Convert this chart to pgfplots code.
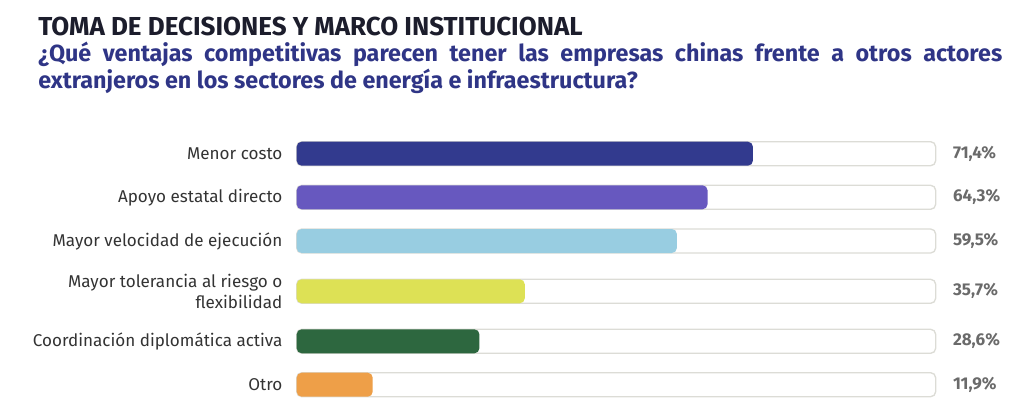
\documentclass[border=0pt]{standalone}
\usepackage{pgfplots}
\pgfplotsset{compat=1.18}
\usepackage{fontspec}
\setmainfont{Fira Sans}
\definecolor{c1}{HTML}{323A8E}
\definecolor{c2}{HTML}{6758BF}
\definecolor{c3}{HTML}{98CDE1}
\definecolor{c4}{HTML}{DDE155}
\definecolor{c5}{HTML}{2D673F}
\definecolor{c6}{HTML}{EE9F48}
\definecolor{trk}{HTML}{DCDCD6}
\definecolor{ttl}{HTML}{1C1D2C}
\definecolor{sub}{HTML}{2F3586}
\definecolor{lab}{HTML}{333333}
\definecolor{val}{HTML}{6A6A6A}
\begin{document}
\begin{tikzpicture}
\path[use as bounding box] (0,0) rectangle (768pt,309pt);
\node[anchor=base west, inner sep=0pt, text=ttl] at (28.5pt,282.75pt)
  {\fontsize{19.5}{23}\selectfont\bfseries TOMA DE DECISIONES Y MARCO INSTITUCIONAL};
\node[anchor=base west, inner sep=0pt, text=sub] at (28.5pt,263.25pt)
  {\parbox[t]{723pt}{\fontsize{17.5}{20.25}\selectfont\bfseries\hyphenpenalty=10000 ¿Qué ventajas competitivas parecen tener las empresas chinas frente a otros actores\linebreak extranjeros en los sectores de energía e infraestructura?}};
\begin{axis}[
  at={(222.5pt,1.5pt)}, anchor=south west,
  scale only axis, width=479.25pt, height=210pt,
  xmin=0, xmax=100, ymin=-410, ymax=-130,
  axis line style={draw=none}, tick style={draw=none},
  major tick length=0pt,
  xtick=\empty,
  ytick={-153.7,-197.3,-241,-291.3,-341.3,-384.7},
  yticklabels={Menor costo,Apoyo estatal directo,Mayor velocidad de ejecución,{Mayor tolerancia al riesgo o\\flexibilidad},Coordinación diplomática activa,Otro},
  yticklabel style={align=right, inner sep=0pt, xshift=-10.5pt, font=\fontsize{12.8}{15.75}\selectfont, text=lab},
  xbar, bar shift=0pt, bar width=24,
  clip=false,
]
\addplot[fill=white, draw=trk, line width=1pt, rounded corners=3.75pt,
  point meta=explicit,
  nodes near coords={\pgfmathprintnumber[use comma,fixed,fixed zerofill,precision=1,assume math mode=true]{\pgfplotspointmeta}\%},
  every node near coord/.append style={anchor=west, inner sep=0pt, xshift=12.5pt, font=\fontsize{12.8}{15}\selectfont\bfseries, text=val}]
  coordinates {(100,-153.7) [71.4] (100,-197.3) [64.3] (100,-241) [59.5] (100,-291.3) [35.7] (100,-341.3) [28.6] (100,-384.7) [11.9]};
\addplot[fill=c1, draw=none, rounded corners=3.75pt] coordinates {(71.4,-153.7)};
\addplot[fill=c2, draw=none, rounded corners=3.75pt] coordinates {(64.3,-197.3)};
\addplot[fill=c3, draw=none, rounded corners=3.75pt] coordinates {(59.5,-241)};
\addplot[fill=c4, draw=none, rounded corners=3.75pt] coordinates {(35.7,-291.3)};
\addplot[fill=c5, draw=none, rounded corners=3.75pt] coordinates {(28.6,-341.3)};
\addplot[fill=c6, draw=none, rounded corners=3.75pt] coordinates {(11.9,-384.7)};
\end{axis}
\end{tikzpicture}
\end{document}
